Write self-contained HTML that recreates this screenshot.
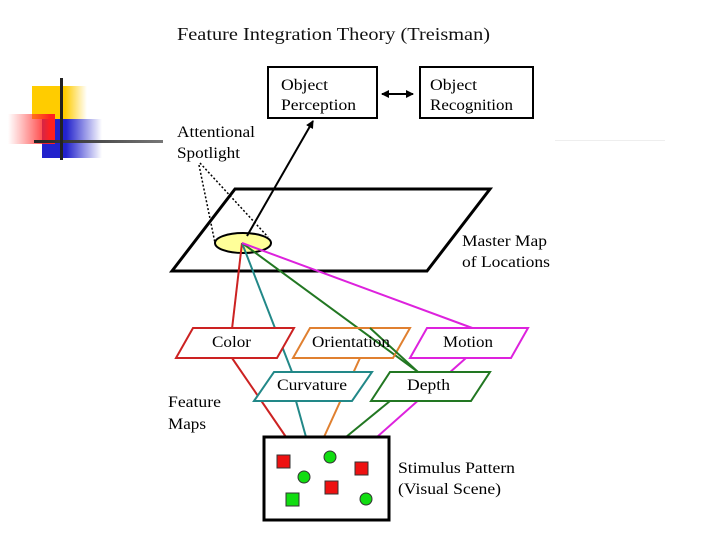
<!DOCTYPE html>
<html><head><style>body{margin:0;background:#fff}svg{display:block}</style></head><body>
<svg width="720" height="540" viewBox="0 0 720 540" xmlns="http://www.w3.org/2000/svg" font-family="Liberation Serif, serif">
<defs>
<linearGradient id="gy" x1="0" x2="1"><stop offset="0.6" stop-color="#ffcc00"/><stop offset="1" stop-color="#ffcc00" stop-opacity="0"/></linearGradient>
<linearGradient id="gr" x1="1" x2="0"><stop offset="0.1" stop-color="#ff2020"/><stop offset="1" stop-color="#ff4040" stop-opacity="0"/></linearGradient>
<linearGradient id="gb" x1="0" x2="1"><stop offset="0.4" stop-color="#2222cc"/><stop offset="1" stop-color="#2222cc" stop-opacity="0"/></linearGradient>
<linearGradient id="gl" x1="0" x2="1"><stop offset="0" stop-color="#222"/><stop offset="1" stop-color="#777"/></linearGradient>
<marker id="ah" markerWidth="8" markerHeight="8" refX="7" refY="4" orient="auto" markerUnits="userSpaceOnUse"><path d="M0,0 L8,4 L0,8 z" fill="#000"/></marker>
<marker id="ahs" markerWidth="8" markerHeight="8" refX="1" refY="4" orient="auto" markerUnits="userSpaceOnUse"><path d="M8,0 L0,4 L8,8 z" fill="#000"/></marker>
</defs>
<rect x="32" y="86" width="55" height="33" fill="url(#gy)"/>
<rect x="42" y="119" width="60" height="39" fill="url(#gb)"/>
<rect x="8" y="114" width="47" height="30" fill="url(#gr)"/>
<rect x="34" y="140" width="129" height="3" fill="url(#gl)"/>
<rect x="60" y="78" width="3" height="82" fill="#222"/>
<rect x="555" y="140" width="110" height="1" fill="#eee"/>
<g lengthAdjust="spacingAndGlyphs" font-size="16">
<text x="177" y="40" font-size="18" fill="#111" textLength="313" lengthAdjust="spacingAndGlyphs">Feature Integration Theory (Treisman)</text>
<rect x="268" y="67" width="109" height="51" fill="#fff" stroke="#000" stroke-width="2"/>
<rect x="420" y="67" width="113" height="51" fill="#fff" stroke="#000" stroke-width="2"/>
<text x="281" y="90" textLength="47" lengthAdjust="spacingAndGlyphs">Object</text><text x="281" y="110" textLength="75" lengthAdjust="spacingAndGlyphs">Perception</text>
<text x="430" y="90" textLength="47" lengthAdjust="spacingAndGlyphs">Object</text><text x="430" y="110" textLength="83" lengthAdjust="spacingAndGlyphs">Recognition</text>
<line x1="382" y1="94" x2="413" y2="94" stroke="#000" stroke-width="2" marker-end="url(#ah)" marker-start="url(#ahs)"/>
<text x="177" y="137" textLength="78" lengthAdjust="spacingAndGlyphs">Attentional</text><text x="177" y="158" textLength="63" lengthAdjust="spacingAndGlyphs">Spotlight</text>
<polygon points="172,271 235,189 490,189 427,271" fill="none" stroke="#000" stroke-width="3"/>
<line x1="199" y1="165" x2="215" y2="243" stroke="#000" stroke-width="1.5" stroke-dasharray="2,2"/>
<line x1="200" y1="163" x2="268" y2="237" stroke="#000" stroke-width="1.5" stroke-dasharray="2,2"/>
<ellipse cx="243" cy="243" rx="28" ry="10" fill="#ffff99" stroke="#000" stroke-width="2"/>
<line x1="247" y1="236" x2="313" y2="121" stroke="#000" stroke-width="2" marker-end="url(#ah)"/>
<text x="462" y="246" textLength="85" lengthAdjust="spacingAndGlyphs">Master Map</text><text x="462" y="267" textLength="88" lengthAdjust="spacingAndGlyphs">of Locations</text>
<g stroke-width="2" fill="none">
<line x1="242" y1="243" x2="232" y2="329" stroke="#cc2222"/>
<line x1="242" y1="243" x2="292" y2="372" stroke="#228888"/>
<line x1="242" y1="243" x2="418" y2="372" stroke="#227722"/>
<line x1="242" y1="243" x2="475" y2="329" stroke="#dd22dd"/>
<polygon points="176,358 193,328 294,328 277,358" fill="#fff" stroke="#cc2222"/>
<polygon points="293,358 310,328 410,328 393,358" fill="none" stroke="#e08030"/>
<polygon points="410,358 427,328 528,328 511,358" fill="#fff" stroke="#dd22dd"/>
<line x1="370" y1="328" x2="418" y2="372" stroke="#227722"/>
<line x1="232" y1="358" x2="286" y2="437" stroke="#cc2222"/>
<line x1="360" y1="358" x2="324" y2="437" stroke="#e08030"/>
<line x1="466" y1="358" x2="377" y2="437" stroke="#dd22dd"/>
<polygon points="254,401 274,372 372,372 352,401" fill="#fff" stroke="#228888"/>
<polygon points="371,401 390,372 490,372 471,401" fill="#fff" stroke="#227722"/>
<line x1="296" y1="401" x2="306" y2="437" stroke="#228888"/>
<line x1="390" y1="401" x2="346" y2="437" stroke="#227722"/>
</g>
<text x="212" y="347" textLength="39" lengthAdjust="spacingAndGlyphs">Color</text>
<text x="312" y="347" textLength="78" lengthAdjust="spacingAndGlyphs">Orientation</text>
<text x="443" y="347" textLength="50" lengthAdjust="spacingAndGlyphs">Motion</text>
<text x="277" y="390" textLength="70" lengthAdjust="spacingAndGlyphs">Curvature</text>
<text x="407" y="390" textLength="43" lengthAdjust="spacingAndGlyphs">Depth</text>
<text x="168" y="407" textLength="53" lengthAdjust="spacingAndGlyphs">Feature</text><text x="168" y="429" textLength="38" lengthAdjust="spacingAndGlyphs">Maps</text>
<rect x="264" y="437" width="125" height="83" fill="#fff" stroke="#000" stroke-width="3"/>
<g stroke="#333" stroke-width="1">
<rect x="277" y="455" width="13" height="13" fill="#ee1111"/>
<rect x="355" y="462" width="13" height="13" fill="#ee1111"/>
<rect x="325" y="481" width="13" height="13" fill="#ee1111"/>
<rect x="286" y="493" width="13" height="13" fill="#11dd11"/>
<circle cx="330" cy="457" r="6" fill="#11dd11"/>
<circle cx="304" cy="477" r="6" fill="#11dd11"/>
<circle cx="366" cy="499" r="6" fill="#11dd11"/>
</g>
<text x="398" y="473" textLength="117" lengthAdjust="spacingAndGlyphs">Stimulus Pattern</text><text x="398" y="494" textLength="103" lengthAdjust="spacingAndGlyphs">(Visual Scene)</text>
</g>
</svg>
</body></html>
